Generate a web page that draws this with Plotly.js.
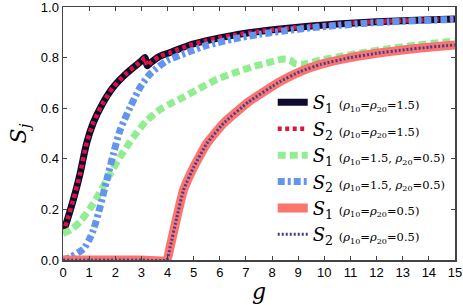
<!DOCTYPE html>
<html>
<head>
<meta charset="utf-8">
<script src="https://cdn.plot.ly/plotly-3.0.1.min.js"></script>
<style>html,body{margin:0;padding:0;background:#fff;}#chart{width:463px;height:305px;}</style>
</head>
<body>
<div id="chart"></div>
<script>
// S1 and S2 for rho10 = rho20 = 1.5
const gA = [0, 0.2, 0.4, 0.65, 0.9, 1.15, 1.5, 1.9, 2.4, 2.8, 3.0, 3.14, 3.22, 3.35, 3.7, 4.1, 4.8, 5.5, 6.5, 7.5, 8.5, 9.5, 10.5, 11.5, 12.5, 13.5, 15];
const s1A = [0.105, 0.17, 0.24, 0.34, 0.46, 0.54, 0.615, 0.68, 0.735, 0.77, 0.787, 0.80, 0.768, 0.78, 0.805, 0.82, 0.848, 0.867, 0.888, 0.903, 0.915, 0.925, 0.933, 0.939, 0.944, 0.948, 0.953];
const s2A = [0.105, 0.17, 0.24, 0.34, 0.46, 0.54, 0.615, 0.68, 0.735, 0.77, 0.787, 0.80, 0.768, 0.78, 0.805, 0.82, 0.848, 0.867, 0.888, 0.903, 0.915, 0.925, 0.933, 0.939, 0.944, 0.948, 0.953];
// S1 for rho10 = 1.5, rho20 = 0.5
const gB1 = [0, 0.3, 0.65, 1.16, 1.67, 2.18, 2.69, 3.2, 3.72, 4.1, 4.6, 5.2, 5.9, 6.5, 7.2, 7.8, 8.44, 8.7, 8.85, 9.2, 9.85, 10.5, 11.5, 12.5, 13.5, 15];
const s1B = [0.105, 0.12, 0.151, 0.223, 0.315, 0.407, 0.485, 0.551, 0.595, 0.617, 0.643, 0.677, 0.715, 0.738, 0.762, 0.779, 0.794, 0.79, 0.778, 0.774, 0.79, 0.803, 0.82, 0.836, 0.849, 0.866];
// S2 for rho10 = 1.5, rho20 = 0.5
const gB2 = [0, 0.3, 0.6, 0.8, 1.0, 1.16, 1.42, 1.67, 1.93, 2.18, 2.57, 2.95, 3.33, 3.97, 4.8, 5.5, 6.5, 7.5, 8.5, 9.5, 10.5, 11.5, 12.5, 13.5, 15];
const s2B = [0.0, 0.012, 0.03, 0.045, 0.08, 0.118, 0.21, 0.315, 0.42, 0.512, 0.604, 0.682, 0.735, 0.787, 0.822, 0.848, 0.873, 0.892, 0.906, 0.918, 0.927, 0.935, 0.941, 0.946, 0.951];
// S1 and S2 for rho10 = rho20 = 0.5
const gC = [0, 1, 2, 3, 3.97, 4.1, 4.36, 4.61, 5.0, 5.5, 6.14, 7.1, 8.3, 9.08, 9.85, 11, 12, 13, 14, 15];
const s1C = [0, 0, 0, 0, 0, 0.052, 0.17, 0.276, 0.367, 0.46, 0.54, 0.625, 0.705, 0.745, 0.773, 0.80, 0.817, 0.83, 0.841, 0.85];
const s2C = [0, 0, 0, 0, 0, 0.052, 0.17, 0.276, 0.367, 0.46, 0.54, 0.625, 0.705, 0.745, 0.773, 0.80, 0.817, 0.83, 0.841, 0.85];

const xTicks = [0,1,2,3,4,5,6,7,8,9,10,11,12,13,14,15];
const yTicks = [0, 0.2, 0.4, 0.6, 0.8, 1.0];
const yTickText = ['0.0','0.2','0.4','0.6','0.8','1.0'];

function lbl(sub, par) {
  return '<i>S</i><sub>' + sub + '</sub> <span style="font-size:11.5px">(' + par + ')</span>';
}
const pA = '<i>ρ</i><sub>10</sub>=<i>ρ</i><sub>20</sub>=1.5';
const pB = '<i>ρ</i><sub>10</sub>=1.5, <i>ρ</i><sub>20</sub>=0.5';
const pC = '<i>ρ</i><sub>10</sub>=<i>ρ</i><sub>20</sub>=0.5';

const sp = {shape: 'spline', smoothing: 0.7};
const traces = [
  {x: gA, y: s1A, name: lbl(1, pA), mode: 'lines', line: Object.assign({color: '#0e0b2e', width: 7}, sp)},
  {x: gA, y: s2A, name: lbl(2, pA), mode: 'lines', line: Object.assign({color: '#dc143c', width: 4.5, dash: '4px,3.5px'}, sp)},
  {x: gB1, y: s1B, name: lbl(1, pB), mode: 'lines', line: Object.assign({color: '#90ee90', width: 7, dash: '8px,4px'}, sp)},
  {x: gB2, y: s2B, name: lbl(2, pB), mode: 'lines', line: Object.assign({color: '#6495ed', width: 7, dash: '7px,3px,3px,3px'}, sp)},
  {x: gC, y: s1C, name: lbl(1, pC), mode: 'lines', line: {color: '#fa7470', width: 9, shape: 'spline', smoothing: 0.4}},
  {x: gC, y: s2C, name: lbl(2, pC), mode: 'lines', line: {color: '#483d8b', width: 3, dash: '2px,2px', shape: 'spline', smoothing: 0.4}}
];

const axisCommon = {
  showgrid: false, zeroline: false, showline: true, mirror: 'ticks',
  linecolor: '#444', linewidth: 1.5, ticks: 'inside', ticklen: 4, tickcolor: '#444',
  ticklabeloverflow: 'allow',
  tickfont: {family: 'Liberation Sans, Arial, sans-serif', size: 13, color: '#000'}
};

const layout = {
  width: 463, height: 305,
  margin: {l: 63, r: 8, t: 7, b: 45},
  paper_bgcolor: '#fff', plot_bgcolor: '#fff',
  showlegend: true,
  xaxis: Object.assign({}, axisCommon, {
    range: [0, 15], tickvals: xTicks,
    title: {text: '<i>g</i>', font: {family: 'DejaVu Serif, serif', size: 22, color: '#000'}, standoff: 4}
  }),
  yaxis: Object.assign({}, axisCommon, {
    range: [0, 1], tickvals: yTicks, ticktext: yTickText,
    title: {text: '<i>S</i><sub><i>j</i></sub>', font: {family: 'DejaVu Serif, serif', size: 22, color: '#000'}, standoff: 8}
  }),
  legend: {
    x: 0.535, y: 0.695, xanchor: 'left', yanchor: 'top',
    bgcolor: 'rgba(0,0,0,0)', borderwidth: 0,
    font: {family: 'DejaVu Serif, serif', size: 18, color: '#000'},
    tracegroupgap: 0
  }
};

Plotly.newPlot('chart', traces, layout, {displayModeBar: false, staticPlot: true});
</script>
</body>
</html>
